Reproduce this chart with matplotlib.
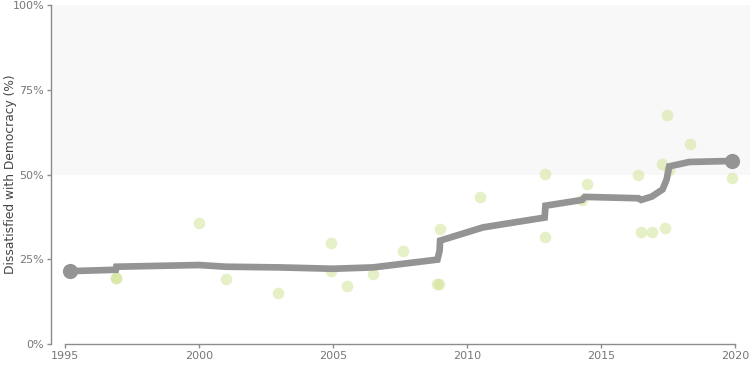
import matplotlib

matplotlib.use("Agg")
import matplotlib.pyplot as plt
from matplotlib.ticker import FuncFormatter

# Trend line (smoothed estimate)
trend_year = [1995.2, 1996.9, 1996.92, 2000.0, 2001.0, 2003.0, 2005.0, 2006.5,
              2008.9, 2008.98, 2009.0, 2010.6, 2012.9, 2012.93, 2014.3, 2014.4,
              2016.4, 2016.5, 2016.9, 2017.3, 2017.45, 2017.55, 2018.3, 2019.9]
trend_pct = [21.5, 21.9, 22.8, 23.3, 22.8, 22.6, 22.2, 22.6,
             24.9, 27.5, 30.5, 34.4, 37.3, 40.8, 42.5, 43.4,
             43.0, 42.5, 43.5, 45.6, 48.5, 52.4, 53.7, 54.0]

# Individual survey observations
obs_year = [1996.9, 1996.9, 2000.0, 2001.0, 2002.95, 2004.93, 2004.93, 2005.53,
            2006.48, 2007.63, 2008.88, 2008.95, 2009.0, 2010.47, 2012.93, 2012.9,
            2014.47, 2014.3, 2016.4, 2016.48, 2016.9, 2017.39, 2017.29, 2017.48,
            2017.55, 2018.31, 2019.9]
obs_pct = [19.5, 19.6, 35.8, 19.3, 15.0, 29.7, 21.4, 17.2,
           20.6, 27.4, 17.6, 17.7, 33.8, 43.5, 50.1, 31.5,
           47.2, 42.5, 49.9, 33.1, 33.1, 34.3, 53.0, 67.6,
           51.3, 59.0, 48.9]

y_ticks = [0, 25, 50, 75, 100]
x_ticks = [1995, 2000, 2005, 2010, 2015, 2020]

fig = plt.figure(figsize=(7.54, 3.77), dpi=100)
ax = fig.add_axes([0.0676, 0.0875, 0.927, 0.8992])

ax.axhspan(50, 100, color="#f8f8f8", lw=0, zorder=0)
ax.scatter(obs_year, obs_pct, s=70, color="#cfe290", alpha=0.5, lw=0, zorder=2)
ax.plot(trend_year, trend_pct, color="#949494", lw=4.8, solid_capstyle="butt",
        solid_joinstyle="miter", zorder=3)
ax.scatter([trend_year[0], trend_year[-1]], [trend_pct[0], trend_pct[-1]],
           s=120, color="#949494", lw=0, zorder=4)

ax.set_xlim(1994.48, 2020.56)
ax.set_ylim(0, 100)
ax.set_xticks(x_ticks)
ax.set_yticks(y_ticks)
ax.yaxis.set_major_formatter(FuncFormatter(lambda v, _: f"{v:.0f}%"))

for side in ("top", "right"):
    ax.spines[side].set_visible(False)
for side in ("left", "bottom"):
    ax.spines[side].set_color("#8c8c8c")
    ax.spines[side].set_linewidth(1.0)
ax.spines["bottom"].set_bounds(1995, 2020)
ax.spines["left"].set_bounds(0, 100)

ax.tick_params(axis="both", colors="#8c8c8c", labelcolor="#777777",
               labelsize=8, length=3, width=1.0, pad=2)
ax.set_ylabel("Dissatisfied with Democracy (%)", fontsize=8.8, color="#444444")
ax.yaxis.set_label_coords(-0.049, 0.5)

fig.savefig("out.png", dpi=100, facecolor="white")
